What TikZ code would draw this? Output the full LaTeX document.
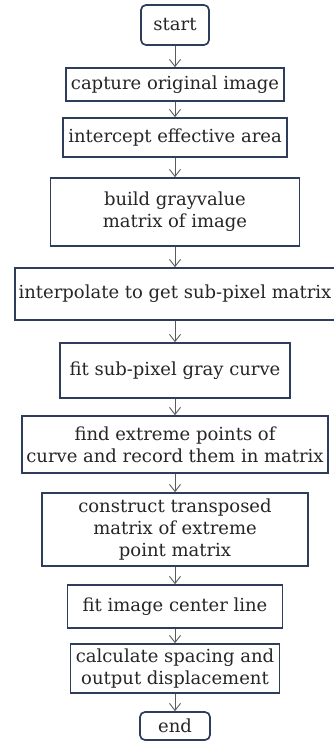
\documentclass[tikz,border=0pt]{standalone}
\usepackage{fontspec}
\setmainfont{DejaVu Serif}
\usepackage{xcolor}
\usepackage{tikz}
\usetikzlibrary{arrows.meta, positioning}

\definecolor{boxblue}{HTML}{2E3D5C}
\definecolor{arrgray}{HTML}{5A5A5A}

\begin{document}
\begin{tikzpicture}[x=1pt, y=-1pt,
    pbox/.style={draw=boxblue, line width=1.7pt, fill=white, inner sep=0pt,
                 font=\fontsize{18}{22}\selectfont, align=center, text=black!85},
    tbox/.style={pbox, rounded corners=5pt},
    myarr/.style={-{Straight Barb[length=7pt,width=11pt]}, line width=0.9pt, arrgray},
]
\useasboundingbox (0,0) rectangle (334,742);
%% -- Terminal boxes --
\node[tbox, minimum width=68pt, minimum height=40pt](s)at(175,25){start};
\node[tbox, minimum width=70pt, minimum height=28pt](e)at(175,726){end};
%% -- Process boxes --
\node[pbox, minimum width=218pt, minimum height=33pt](p1)at(175,84.5){capture original image};
\node[pbox, minimum width=224pt, minimum height=39pt](p2)at(175,137.5){intercept effective area};
\node[pbox, minimum width=249pt, minimum height=68pt](p3)at(175,212){build grayvalue\\matrix of image};
\node[pbox, minimum width=320pt, minimum height=52pt](p4)at(175,294){interpolate to get sub-pixel matrix};
\node[pbox, minimum width=230pt, minimum height=55pt](p5)at(175,370.5){fit sub-pixel gray curve};
\node[pbox, minimum width=306pt, minimum height=57pt](p6)at(175,444.5){find extreme points of\\curve and record them in matrix};
\node[pbox, minimum width=266pt, minimum height=73pt](p7)at(175,529.5){construct transposed\\matrix of extreme\\point matrix};
\node[pbox, minimum width=215pt, minimum height=43pt](p8)at(175,606.5){fit image center line};
\node[pbox, minimum width=209pt, minimum height=49pt](p9)at(175,668.5){calculate spacing and\\output displacement};
%% -- Arrows down the chain --
\foreach \a/\b in {s/p1,p1/p2,p2/p3,p3/p4,p4/p5,p5/p6,p6/p7,p7/p8,p8/p9,p9/e}{
  \draw[myarr](\a.south)--(\b.north);
}
\end{tikzpicture}
\end{document}
